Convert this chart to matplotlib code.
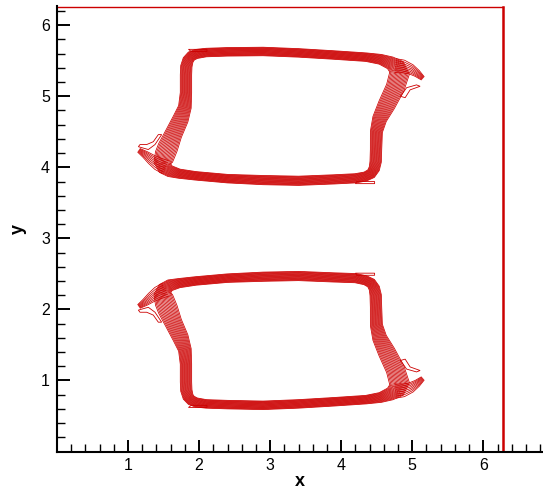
import matplotlib.pyplot as plt
from matplotlib.patches import Polygon
import numpy as np

RED = '#cc0000'
TWO_PI = 2 * np.pi

# centre line of the upper contour band (closed loop, starts mid top edge) and its half-width
upper_x = [2.90, 3.40, 3.90, 4.35, 4.55, 4.69, 4.78, 4.82, 4.76, 4.64, 4.54, 4.495, 4.49, 4.485, 4.465, 4.42, 4.34,
           4.20, 3.90, 3.40, 2.90, 2.40, 1.95, 1.72, 1.59, 1.52, 1.495, 1.52, 1.56, 1.64, 1.74, 1.80, 1.815, 1.815,
           1.82, 1.845, 1.89, 1.96, 2.10, 2.40]
upper_y = [5.63, 5.61, 5.58, 5.55, 5.52, 5.47, 5.41, 5.32, 5.12, 4.88, 4.68, 4.50, 4.25, 4.08, 3.98, 3.91, 3.87,
           3.845, 3.83, 3.81, 3.82, 3.84, 3.88, 3.91, 3.945, 3.99, 4.07, 4.18, 4.28, 4.47, 4.68, 4.85, 5.05, 5.30,
           5.42, 5.51, 5.565, 5.595, 5.615, 5.625]
upper_w = [0.06, 0.06, 0.06, 0.06, 0.07, 0.09, 0.12, 0.14, 0.13, 0.12, 0.10, 0.085, 0.08, 0.08, 0.075, 0.07, 0.065,
           0.065, 0.065, 0.065, 0.065, 0.06, 0.06, 0.065, 0.08, 0.10, 0.13, 0.14, 0.14, 0.12, 0.11, 0.09, 0.08, 0.08,
           0.08, 0.075, 0.07, 0.065, 0.06, 0.06]

# lower contour band
lower_x = [2.90, 3.40, 3.90, 4.35, 4.55, 4.69, 4.78, 4.82, 4.76, 4.64, 4.54, 4.495, 4.49, 4.485, 4.465, 4.42, 4.34,
           4.20, 3.90, 3.40, 2.90, 2.40, 1.95, 1.72, 1.59, 1.52, 1.495, 1.52, 1.56, 1.64, 1.74, 1.80, 1.815, 1.815,
           1.82, 1.845, 1.89, 1.96, 2.10, 2.40]
lower_y = [0.65, 0.67, 0.70, 0.73, 0.76, 0.81, 0.87, 0.96, 1.16, 1.40, 1.60, 1.78, 2.03, 2.20, 2.30, 2.37, 2.41,
           2.44, 2.45, 2.47, 2.46, 2.44, 2.40, 2.37, 2.34, 2.29, 2.21, 2.10, 2.00, 1.81, 1.60, 1.43, 1.23, 0.98,
           0.86, 0.77, 0.72, 0.69, 0.67, 0.66]
lower_w = [0.06, 0.06, 0.06, 0.06, 0.07, 0.09, 0.12, 0.14, 0.13, 0.12, 0.10, 0.085, 0.08, 0.08, 0.075, 0.07, 0.065,
           0.065, 0.065, 0.065, 0.065, 0.06, 0.06, 0.065, 0.08, 0.10, 0.13, 0.14, 0.14, 0.12, 0.11, 0.09, 0.08, 0.08,
           0.08, 0.075, 0.07, 0.065, 0.06, 0.06]

# fan-shaped tails at the corners (open curves)
tails = [
    ([1.53, 1.42, 1.33, 1.24, 1.15], [4.00, 4.05, 4.11, 4.18, 4.24], [0.10, 0.09, 0.07, 0.05, 0.03]),
    ([4.76, 4.87, 4.98, 5.07, 5.15], [5.43, 5.42, 5.38, 5.32, 5.25], [0.10, 0.09, 0.07, 0.05, 0.03]),
    ([1.53, 1.42, 1.33, 1.24, 1.15], [2.28, 2.23, 2.17, 2.10, 2.04], [0.10, 0.09, 0.07, 0.05, 0.03]),
    ([4.76, 4.87, 4.98, 5.07, 5.15], [0.85, 0.86, 0.90, 0.96, 1.03], [0.10, 0.09, 0.07, 0.05, 0.03]),
]

# small crescent-shaped closed contours next to the tails
crescents = [
    ([1.145, 1.285, 1.379, 1.473, 1.426, 1.355, 1.262, 1.168], [4.29, 4.25, 4.32, 4.46, 4.46, 4.36, 4.32, 4.32]),
    ([4.83, 4.90, 4.97, 5.11, 5.06, 4.92, 4.85], [5.00, 4.98, 5.09, 5.14, 5.16, 5.12, 5.02]),
    ([1.145, 1.285, 1.379, 1.473, 1.426, 1.355, 1.262, 1.168], [1.99, 2.03, 1.96, 1.82, 1.82, 1.92, 1.96, 1.96]),
    ([4.83, 4.90, 4.97, 5.11, 5.06, 4.92, 4.85], [1.28, 1.30, 1.19, 1.14, 1.12, 1.16, 1.26]),
]

# thin flat contour pieces sticking out of the bands
tabs = [
    ([1.85, 2.11, 2.11, 1.89], [5.66, 5.66, 5.63, 5.63]),
    ([4.20, 4.47, 4.47, 4.22], [3.77, 3.77, 3.80, 3.80]),
    ([1.85, 2.11, 2.11, 1.89], [0.62, 0.62, 0.65, 0.65]),
    ([4.20, 4.47, 4.47, 4.22], [2.51, 2.51, 2.48, 2.48]),
]


def draw_band(ax, xs, ys, ws, closed=True, n=17):
    x, y, w = np.asarray(xs), np.asarray(ys), np.asarray(ws)
    if closed:
        xp, xn = np.roll(x, 1), np.roll(x, -1)
        yp, yn = np.roll(y, 1), np.roll(y, -1)
    else:
        xp, xn = np.r_[x[0], x[:-1]], np.r_[x[1:], x[-1]]
        yp, yn = np.r_[y[0], y[:-1]], np.r_[y[1:], y[-1]]
    tx, ty = xn - xp, yn - yp
    norm = np.hypot(tx, ty)
    nx, ny = ty / norm, -tx / norm
    for k in np.linspace(-1, 1, n):
        ox, oy = x + k * w * nx, y + k * w * ny
        if closed:
            ax.add_patch(Polygon(np.c_[ox, oy], closed=True, fill=False, ec=RED, lw=0.55))
        else:
            ax.plot(ox, oy, color=RED, lw=0.55, solid_capstyle='butt')


fig = plt.figure(figsize=(5.43, 4.92), dpi=100)
ax = fig.add_axes([0.105, 0.0823, 0.895, 0.9055])

draw_band(ax, upper_x, upper_y, upper_w)
draw_band(ax, lower_x, lower_y, lower_w)
for tx, ty, tw in tails:
    draw_band(ax, tx, ty, tw, closed=False, n=8)
for cx, cy in crescents + tabs:
    ax.add_patch(Polygon(np.c_[cx, cy], closed=True, fill=False, ec=RED, lw=0.6))

# domain boundary
ax.plot([0, TWO_PI], [6.262, 6.262], color=RED, lw=1.0)
ax.plot([TWO_PI, TWO_PI], [0, 6.262], color=RED, lw=1.8)

ax.set_xlim(0, 6.84)
ax.set_ylim(0, 6.27)
ax.set_xticks([1, 2, 3, 4, 5, 6])
ax.set_yticks([1, 2, 3, 4, 5, 6])
ax.set_xticks(np.arange(0.2, 6.84, 0.2), minor=True)
ax.set_yticks(np.arange(0.2, 6.27, 0.2), minor=True)

for s in ['top', 'right']:
    ax.spines[s].set_visible(False)
for s in ['left', 'bottom']:
    ax.spines[s].set_linewidth(1.5)

ax.tick_params(which='major', direction='in', length=9, width=1.4, labelsize=11.5, pad=5)
ax.tick_params(which='minor', direction='in', length=5.5, width=1.0)
for lab in ax.get_xticklabels() + ax.get_yticklabels():
    lab.set_fontfamily('Liberation Sans')

ax.set_xlabel('x', fontsize=13, fontweight='bold', fontfamily='Liberation Sans', labelpad=0)
ax.set_ylabel('y', fontsize=13, fontweight='bold', fontfamily='Liberation Sans', labelpad=10)

fig.savefig('out.png', dpi=100)
